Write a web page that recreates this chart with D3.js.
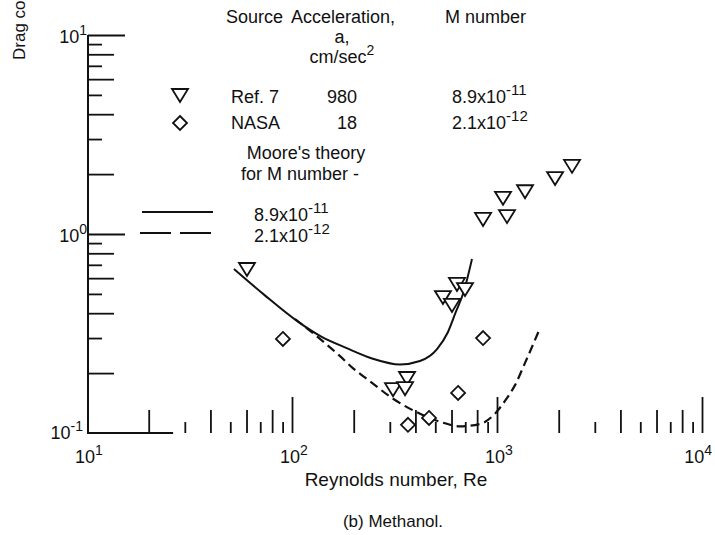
<!DOCTYPE html>
<html>
<head>
<meta charset="utf-8">
<script src="https://cdn.jsdelivr.net/npm/d3@7/dist/d3.min.js"></script>
<style>
  html, body { margin: 0; padding: 0; background: #fff; }
  svg { display: block; }
  text { font-family: "Liberation Sans", Arial, sans-serif; fill: #111; }
</style>
</head>
<body>
<svg id="chart" width="715" height="535"></svg>
<script>
// ---- data ----
const ref7Re = [60.3, 364, 311, 356, 638, 698, 545, 603, 855, 1119, 1070, 1370, 1920, 2323];
const ref7Cd = [0.667, 0.189, 0.166, 0.168, 0.561, 0.529, 0.482, 0.440, 1.19, 1.23, 1.52, 1.64, 1.91, 2.20];
const nasaRe = [90.3, 368, 466, 646, 855];
const nasaCd = [0.297, 0.110, 0.119, 0.159, 0.300];
const theory1Re = [52.1, 73.5, 105.6, 139, 185, 246, 336, 421, 510, 575, 627, 690, 755];
const theory1Cd = [0.667, 0.493, 0.366, 0.305, 0.267, 0.237, 0.221, 0.230, 0.264, 0.320, 0.401, 0.517, 0.748];
const theory2Re = [103.5, 137, 171, 198, 240, 307, 421, 557, 660, 827, 977, 1094, 1224, 1370, 1622];
const theory2Cd = [0.374, 0.297, 0.244, 0.212, 0.182, 0.150, 0.125, 0.112, 0.108, 0.111, 0.125, 0.145, 0.174, 0.225, 0.337];
const xTickExponents = [1, 2, 3, 4];
const yTickExponents = [1, 0, -1];
const legendSources = ["Ref. 7", "NASA"];
const legendAccel = ["980", "18"];
const legendMMant = ["8.9x10", "2.1x10"];
const legendMExp = ["-11", "-12"];

const svg = d3.select("#chart");
const x = d3.scaleLog().domain([10, 10000]).range([87, 702]);
const y = d3.scaleLog().domain([0.1, 10]).range([433, 35]);

// tick groups
const decadesX = [10, 100, 1000];
const majorX = [10, 100, 1000, 10000];
const medX = [], shortX = [];
decadesX.forEach(d => { [2,4,6,8].forEach(m => medX.push(m*d)); [3,5,7,9].forEach(m => shortX.push(m*d)); });
const majorY = [0.1, 1, 10];
const medY = [], shortY = [];
[0.1, 1].forEach(d => { [2,4,6,8].forEach(m => medY.push(m*d)); [3,5,7,9].forEach(m => shortY.push(m*d)); });

function tickAxis(axis, vals, len, tx, ty) {
  const g = svg.append("g").attr("transform", `translate(${tx},${ty})`)
    .call(axis.tickValues(vals).tickSize(len).tickFormat(""));
  g.select(".domain").remove();
  g.selectAll("line").attr("stroke", "#111").attr("stroke-width", 1.8);
  return g;
}
const baseY = y(0.1);
tickAxis(d3.axisTop(x), majorX.filter(v => v > 10), 36, 0, baseY);
tickAxis(d3.axisTop(x), medX, 23, 0, baseY);
tickAxis(d3.axisTop(x), shortX, 11, 0, baseY);

const axX = x(10) + 1;
tickAxis(d3.axisRight(y), majorY.filter(v => v > 0.1), 37, axX, 0);
tickAxis(d3.axisRight(y), medY, 26, axX, 0);
tickAxis(d3.axisRight(y), shortY, 14, axX, 0);

// y axis line and partial x baseline
svg.append("line").attr("x1", axX).attr("x2", axX).attr("y1", y(10)).attr("y2", y(0.1) + 1)
  .attr("stroke", "#111").attr("stroke-width", 2);
svg.append("line").attr("x1", axX).attr("x2", x(26.3)).attr("y1", baseY).attr("y2", baseY)
  .attr("stroke", "#111").attr("stroke-width", 1.8);

// tick labels with superscripts
function powLabel(g, px, py, exp, anchor) {
  const t = g.append("text").attr("x", px).attr("y", py).attr("text-anchor", anchor)
    .style("font-size", "18px");
  t.append("tspan").text("10");
  t.append("tspan").attr("dy", -8).style("font-size", "14px").text(exp);
  return t;
}
const lab = svg.append("g");
xTickExponents.forEach(e => {
  const px = x(Math.pow(10, e));
  if (e === 4) powLabel(lab, px + 10, 463, e, "end");
  else powLabel(lab, px + 2, 463, e, "middle");
});
yTickExponents.forEach(e => powLabel(lab, e < 0 ? 83 : 87, y(Math.pow(10, e)) + (e < 0 ? 6 : 8), e, "end"));

// axis titles
svg.append("text").attr("x", 396).attr("y", 486).attr("text-anchor", "middle")
  .style("font-size", "19px").text("Reynolds number, Re");
svg.append("text").attr("x", 393).attr("y", 527).attr("text-anchor", "middle")
  .style("font-size", "17px").text("(b) Methanol.");
svg.append("text").attr("transform", "translate(25,60) rotate(-90)")
  .style("font-size", "17px").text("Drag coefficient, C");

// curves
const line = d3.line().x(d => x(d[0])).y(d => y(d[1])).curve(d3.curveMonotoneX);
svg.append("path").attr("d", line(theory1Re.map((r, i) => [r, theory1Cd[i]])))
  .attr("fill", "none").attr("stroke", "#111").attr("stroke-width", 2);
svg.append("path").attr("d", line(theory2Re.map((r, i) => [r, theory2Cd[i]])))
  .attr("fill", "none").attr("stroke", "#111").attr("stroke-width", 2.2).attr("stroke-dasharray", "9,5");

// markers
const triPath = "M-8,-6L8,-6L0,7Z";
const diaPath = "M0,-7L7,0L0,7L-7,0Z";
svg.append("g").selectAll("path").data(ref7Re.map((r, i) => [r, ref7Cd[i]])).join("path")
  .attr("transform", d => `translate(${x(d[0])},${y(d[1])})`).attr("d", triPath)
  .attr("fill", "#fff").attr("stroke", "#111").attr("stroke-width", 1.8);
svg.append("g").selectAll("path").data(nasaRe.map((r, i) => [r, nasaCd[i]])).join("path")
  .attr("transform", d => `translate(${x(d[0])},${y(d[1])})`).attr("d", diaPath)
  .attr("fill", "#fff").attr("stroke", "#111").attr("stroke-width", 1.8);

// legend
const lg = svg.append("g").style("font-size", "18px");
lg.append("text").attr("x", 226).attr("y", 23).text("Source");
lg.append("text").attr("x", 291).attr("y", 23).text("Acceleration,");
lg.append("text").attr("x", 526).attr("y", 23).attr("text-anchor", "end").text("M number");
lg.append("text").attr("x", 342).attr("y", 43).attr("text-anchor", "middle").text("a,");
const cm = lg.append("text").attr("x", 342).attr("y", 63).attr("text-anchor", "middle");
cm.append("tspan").text("cm/sec");
cm.append("tspan").attr("dy", -8).style("font-size", "14px").text("2");

const rowY = [103, 129];
lg.append("path").attr("transform", `translate(180,${rowY[0] - 8})`).attr("d", triPath)
  .attr("fill", "#fff").attr("stroke", "#111").attr("stroke-width", 1.8);
lg.append("path").attr("transform", `translate(180,${rowY[1] - 6})`).attr("d", diaPath)
  .attr("fill", "#fff").attr("stroke", "#111").attr("stroke-width", 1.8);
legendSources.forEach((s, i) => {
  lg.append("text").attr("x", 231).attr("y", rowY[i]).text(s);
  lg.append("text").attr("x", 357).attr("y", rowY[i]).attr("text-anchor", "end").text(legendAccel[i]);
  const t = lg.append("text").attr("x", 452).attr("y", rowY[i]);
  t.append("tspan").text(legendMMant[i]);
  t.append("tspan").attr("dy", -8).style("font-size", "15px").text(legendMExp[i]);
});
lg.append("text").attr("x", 306).attr("y", 159).attr("text-anchor", "middle").text("Moore's theory");
lg.append("text").attr("x", 300).attr("y", 180).attr("text-anchor", "middle").text("for M number -");
lg.append("line").attr("x1", 142).attr("x2", 213).attr("y1", 212).attr("y2", 212)
  .attr("stroke", "#111").attr("stroke-width", 1.8);
lg.append("line").attr("x1", 140).attr("x2", 213).attr("y1", 233).attr("y2", 233)
  .attr("stroke", "#111").attr("stroke-width", 1.8).attr("stroke-dasharray", "31,9");
[0, 1].forEach(i => {
  const t = lg.append("text").attr("x", 254).attr("y", [221, 242][i]);
  t.append("tspan").text(legendMMant[i]);
  t.append("tspan").attr("dy", -8).style("font-size", "15px").text(legendMExp[i]);
});
</script>
</body>
</html>
